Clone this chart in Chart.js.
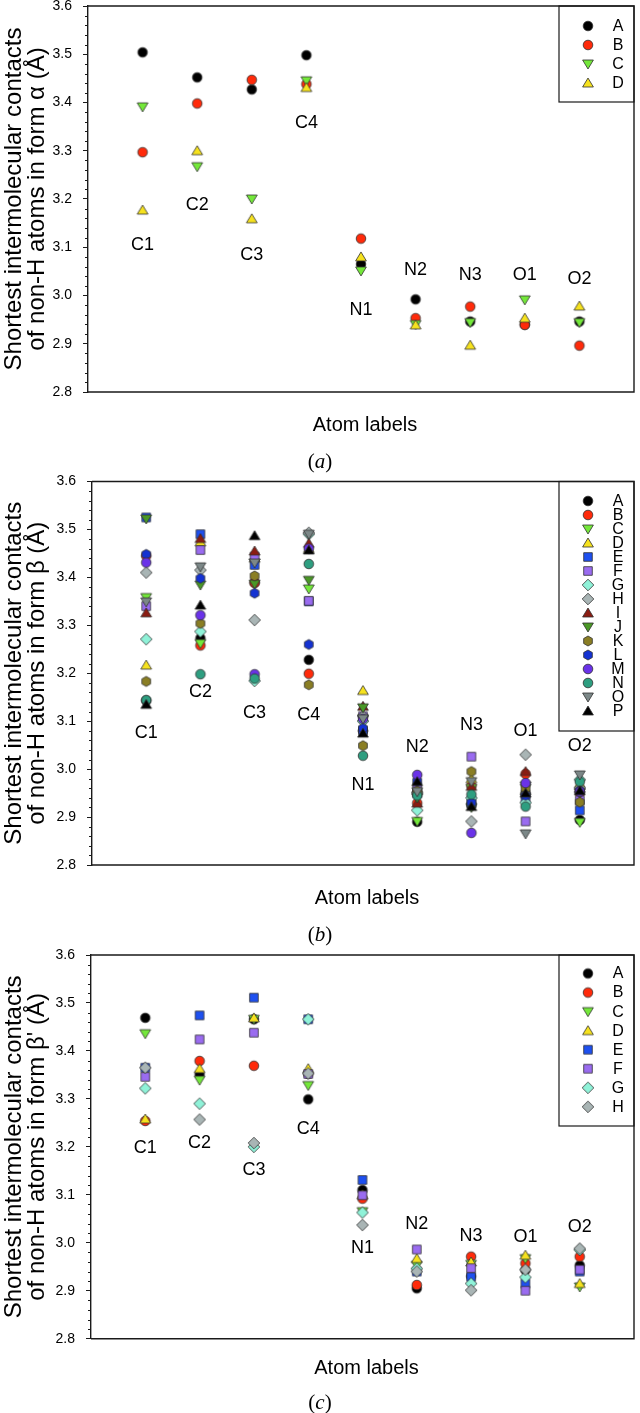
<!DOCTYPE html>
<html><head><meta charset="utf-8">
<script src="https://cdn.jsdelivr.net/npm/chart.js@4.4.1/dist/chart.umd.min.js"></script>
<style>
html,body{margin:0;padding:0;background:#fff;}
body{width:640px;height:1413px;position:relative;overflow:hidden;}
canvas{position:absolute;left:0;}
.cap{position:absolute;left:0;width:640px;text-align:center;font-family:"Liberation Serif","Times New Roman",serif;font-size:21px;line-height:24px;color:#000;}
</style></head><body>
<canvas id="ca" width="640" height="475" style="top:0px"></canvas>
<canvas id="cb" width="640" height="470" style="top:475px"></canvas>
<canvas id="cc" width="640" height="468" style="top:945px"></canvas>
<div class="cap" style="top:449px">(<i>a</i>)</div>
<div class="cap" style="top:922px">(<i>b</i>)</div>
<div class="cap" style="top:1390px">(<i>c</i>)</div>
<script>
// ---------- DATA ----------
const atomLabels = ['C1','C2','C3','C4','N1','N2','N3','O1','O2'];
const atomX = [1,2,3,4,5,6,7,8,9];
const yTickValues = [2.8,2.9,3.0,3.1,3.2,3.3,3.4,3.5,3.6];

// form alpha
const alphaNames = ['A','B','C','D'];
const alphaA = [3.504,3.452,3.427,3.498,3.065,2.992,2.946,2.940,2.946];
const alphaB = [3.297,3.398,3.447,3.438,3.118,2.953,2.977,2.939,2.896];
const alphaC = [3.391,3.267,3.200,3.445,3.051,2.940,2.944,2.991,2.944];
const alphaD = [3.177,3.300,3.159,3.431,3.080,2.939,2.897,2.953,2.978];
const alphaLabelY = [3.105,3.188,3.084,3.357,2.970,3.053,3.042,3.042,3.034];

// form beta
const betaNames = ['A','B','C','D','E','F','G','H','I','J','K','L','M','N','O','P'];
const betaA = [3.143,3.273,3.389,3.228,3.080,2.890,2.925,2.950,2.894];
const betaB = [3.445,3.258,3.389,3.199,3.080,2.929,2.965,2.990,2.950];
const betaC = [3.358,3.262,3.430,3.376,3.105,2.891,2.960,2.965,2.889];
const betaD = [3.217,3.474,3.440,3.460,3.164,2.960,2.980,2.955,2.970];
const betaE = [3.525,3.490,3.426,3.350,3.080,2.950,2.929,2.940,2.914];
const betaF = [3.340,3.457,3.443,3.351,3.110,2.960,3.026,2.891,2.935];
const betaG = [3.271,3.287,3.184,3.490,3.100,2.914,2.940,2.930,2.978];
const betaH = [3.410,3.415,3.311,3.493,3.110,2.950,2.891,3.030,2.960];
const betaI = [3.326,3.481,3.455,3.471,3.131,2.929,2.964,2.995,2.960];
const betaJ = [3.522,3.384,3.386,3.394,3.128,2.940,2.920,2.960,2.950];
const betaK = [3.183,3.304,3.403,3.176,3.049,2.955,2.995,2.960,2.931];
const betaL = [3.448,3.398,3.367,3.260,3.085,2.975,2.930,2.945,2.955];
const betaM = [3.431,3.321,3.198,3.460,3.105,2.988,2.867,2.971,2.953];
const betaN = [3.144,3.198,3.189,3.428,3.028,2.945,2.947,2.922,2.974];
const betaO = [3.349,3.422,3.430,3.490,3.105,2.953,2.974,2.865,2.988];
const betaP = [3.135,3.342,3.487,3.457,3.075,2.974,2.922,2.950,2.955];
const betaLabelY = [3.075,3.160,3.118,3.112,2.967,3.047,3.092,3.080,3.049];

// form beta'
const betaPNames = ['A','B','C','D','E','F','G','H'];
const betaPA = [3.469,3.351,3.466,3.299,3.110,2.905,2.930,2.943,2.953];
const betaPB = [3.254,3.379,3.369,3.352,3.092,2.912,2.971,2.957,2.971];
const betaPC = [3.436,3.339,3.466,3.328,3.065,2.953,2.955,2.967,2.908];
const betaPD = [3.258,3.363,3.469,3.363,3.100,2.967,2.960,2.974,2.915];
const betaPE = [3.365,3.474,3.511,3.466,3.131,2.940,2.929,2.915,2.940];
const betaPF = [3.346,3.424,3.438,3.352,3.099,2.986,2.947,2.900,2.944];
const betaPG = [3.322,3.290,3.200,3.466,3.063,2.946,2.915,2.928,2.985];
const betaPH = [3.365,3.257,3.208,3.353,3.037,2.940,2.901,2.944,2.988];
const betaPLabelY = [3.197,3.209,3.151,3.238,2.988,3.040,3.014,3.012,3.032];

// ---------- STYLES ----------
const markerStyle = {
  A:['circle','#000000'], B:['circle','#ff2a0a'], C:['down','#74e83a'], D:['up','#f6e21e'],
  E:['square','#1e50f0'], F:['square','#9a6cf0'], G:['diamond','#8ff2d8'], H:['diamond','#a9b5b5'],
  I:['up','#8a1c12'], J:['down','#4a9826'], K:['hex','#8a7e24'], L:['hex','#1432d2'],
  M:['circle','#6a32e8'], N:['circle','#2e9e80'], O:['down','#7c8888'], P:['up','#000000']
};
const markerCache = {};
function marker(letter){
  if (markerCache[letter]) return markerCache[letter];
  const [shape, fill] = markerStyle[letter];
  const s = 16, m = 8;
  const c = document.createElement('canvas'); c.width = s; c.height = s;
  const g = c.getContext('2d');
  g.fillStyle = fill; g.strokeStyle = '#303030'; g.lineWidth = 0.8;
  g.beginPath();
  if (shape === 'circle') g.arc(m, m, 4.8, 0, Math.PI*2);
  else if (shape === 'up') { g.moveTo(m, m-5); g.lineTo(m+5.4, m+4); g.lineTo(m-5.4, m+4); g.closePath(); }
  else if (shape === 'down') { g.moveTo(m, m+5); g.lineTo(m+5.4, m-4); g.lineTo(m-5.4, m-4); g.closePath(); }
  else if (shape === 'square') g.rect(m-4.3, m-4.3, 8.6, 8.6);
  else if (shape === 'diamond') { g.moveTo(m, m-5.8); g.lineTo(m+5.8, m); g.lineTo(m, m+5.8); g.lineTo(m-5.8, m); g.closePath(); }
  else if (shape === 'hex') { for (let k=0;k<6;k++){ const a=-Math.PI/2+k*Math.PI/3; const px=m+5*Math.cos(a), py=m+5*Math.sin(a); k?g.lineTo(px,py):g.moveTo(px,py);} g.closePath(); }
  g.fill(); g.stroke();
  markerCache[letter] = c;
  return c;
}

const FONT = '"Liberation Sans", Arial, sans-serif';

function makePanel(id, names, series, labelY, formText, geo){
  const n = names.length;
  const datasets = names.map((nm, i) => ({
    label: nm,
    data: atomX.map((x, j) => ({x: x, y: series[i][j]})),
    pointStyle: marker(nm),
    pointRadius: 5,
    order: n - i,
    showLine: false
  }));
  const decor = {
    id: 'decor_' + id,
    afterDatasetsDraw(chart){
      const {ctx, chartArea: ca, scales: {x, y}} = chart;
      ctx.save();
      // frame
      ctx.strokeStyle = '#1a1a1a'; ctx.lineWidth = 1.4;
      ctx.beginPath();
      ctx.moveTo(ca.left, ca.top); ctx.lineTo(ca.right, ca.top);
      ctx.lineTo(ca.right, ca.bottom); ctx.lineTo(ca.left, ca.bottom);
      ctx.stroke();
      // minor ticks
      ctx.lineWidth = 1;
      ctx.beginPath();
      for (let k = 0; k <= 40; k++){
        if (k % 5 === 0) continue;
        const v = 2.8 + k*0.02;
        const py = Math.round(y.getPixelForValue(v)) + 0.5;
        ctx.moveTo(ca.left - 3, py); ctx.lineTo(ca.left, py);
      }
      ctx.stroke();
      // atom labels
      ctx.fillStyle = '#000';
      ctx.font = '18px ' + FONT; ctx.textAlign = 'center'; ctx.textBaseline = 'middle';
      labelY.forEach((v, i) => ctx.fillText(atomLabels[i], x.getPixelForValue(atomX[i]), y.getPixelForValue(v)));
      // x title
      ctx.font = '20px ' + FONT;
      ctx.fillText('Atom labels', (ca.left + ca.right)/2 + 4, ca.bottom + geo.xTitleOff);
      // y title
      ctx.save();
      ctx.translate(0, (ca.top + ca.bottom)/2);
      ctx.rotate(-Math.PI/2);
      ctx.font = '24px ' + FONT;
      ctx.fillText('Shortest intermolecular contacts', 0, 14);
      ctx.fillText('of non-H atoms in form ' + formText + ' (\u00C5)', 0, 37.5);
      ctx.restore();
      // legend
      const lw = 75;
      const lx = ca.right - lw, ly = ca.top;
      ctx.strokeStyle = '#1a1a1a'; ctx.lineWidth = 1.2;
      ctx.strokeRect(lx, ly, lw, geo.legH);
      ctx.font = geo.legFont + 'px ' + FONT;
      names.forEach((nm, i) => {
        const cy = ly + geo.legFirst + i*geo.legStep;
        const mk = marker(nm);
        ctx.drawImage(mk, lx + 29 - mk.width/2, cy - mk.height/2);
        ctx.fillText(nm, lx + 59, cy + 0.5);
      });
      ctx.restore();
    }
  };
  return new Chart(document.getElementById(id), {
    type: 'scatter',
    data: { datasets },
    options: {
      responsive: false, animation: false, devicePixelRatio: 1, events: [],
      layout: { padding: { left: 0, top: geo.top, right: 640 - geo.right, bottom: geo.h - geo.bottom } },
      plugins: { legend: { display: false }, tooltip: { enabled: false } },
      scales: {
        x: { type: 'linear', min: 0, max: 10, display: false },
        y: {
          type: 'linear', min: 2.8, max: 3.6,
          afterBuildTicks: s => { s.ticks = yTickValues.map(v => ({value: v})); },
          afterFit: s => { s.width = geo.left; s.paddingTop = 0; s.paddingBottom = 0; },
          ticks: { callback: v => Number(v).toFixed(1), color: '#000', font: { family: FONT, size: 14 }, padding: 11 },
          grid: { drawOnChartArea: false, drawTicks: true, tickLength: 5, tickColor: '#1a1a1a', color: '#1a1a1a' },
          border: { display: true, color: '#1a1a1a', width: 1.4 }
        }
      }
    },
    plugins: [decor]
  });
}

makePanel('ca', alphaNames, [alphaA, alphaB, alphaC, alphaD], alphaLabelY, '\u03B1',
  {h: 475, top: 6, bottom: 392, left: 88, right: 637, xTitleOff: 33, legH: 96, legFirst: 20, legStep: 19, legFont: 16});
makePanel('cb', betaNames, [betaA,betaB,betaC,betaD,betaE,betaF,betaG,betaH,betaI,betaJ,betaK,betaL,betaM,betaN,betaO,betaP], betaLabelY, '\u03B2',
  {h: 470, top: 6.5, bottom: 390, left: 92, right: 638, xTitleOff: 33, legH: 249.5, legFirst: 19.5, legStep: 14, legFont: 16});
makePanel('cc', betaPNames, [betaPA,betaPB,betaPC,betaPD,betaPE,betaPF,betaPG,betaPH], betaPLabelY, "\u03B2'",
  {h: 468, top: 10, bottom: 393.7, left: 91, right: 637, xTitleOff: 30, legH: 171, legFirst: 18.5, legStep: 19.05, legFont: 16});
</script>
</body></html>
